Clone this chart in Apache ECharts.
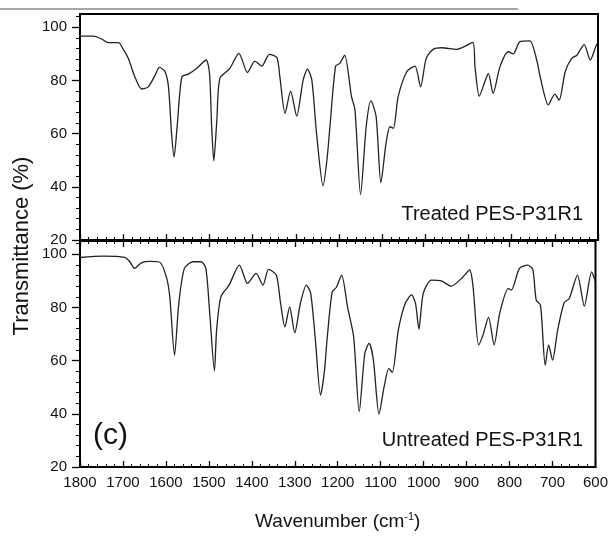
<!DOCTYPE html>
<html lang="en">
<head>
    <meta charset="UTF-8">
    <title>FTIR PES-P31R1</title>
    <script src="https://cdn.jsdelivr.net/npm/echarts@6/dist/echarts.min.js"></script>
    <style>
    html, body { padding: 0; margin: 0; width: 100%; height: 100%; background: #fff; }
    #main { width: 611px; height: 537px; }
    </style>
</head>
<body>
    <div id="main"></div>
    <script type="text/javascript">
        // wavenumber (cm-1) / transmittance (%)
        var treatedWn = [1800, 1769, 1750, 1734, 1711, 1700, 1688, 1673, 1657, 1642, 1626, 1616, 1603, 1595, 1588, 1582, 1575, 1564, 1549, 1530,
            1508, 1500, 1495, 1490, 1483, 1476, 1453, 1432, 1412, 1395, 1379, 1361, 1344, 1337, 1325, 1312, 1298, 1283, 1273, 1263,
            1252, 1237, 1228, 1221, 1208, 1198, 1187, 1171, 1163, 1150, 1137, 1126, 1114, 1103, 1091, 1082, 1074, 1063, 1043, 1024,
            1011, 998, 982, 962, 927, 890, 885, 875, 862, 854, 843, 827, 808, 796, 781, 758, 742, 734, 715, 700,
            690, 676, 661, 649, 632, 618, 603, 600];
        var treatedT = [96.7, 96.7, 95.6, 94.2, 94.2, 91.8, 88.3, 81.4, 76.8, 77.6, 82, 84.9, 83.3, 77.6, 60.2, 51.3, 62.6, 81.4, 82.4, 84.5,
            87.7, 82.7, 62.6, 49.8, 65.1, 80.8, 84.5, 90.2, 83, 87.3, 85.4, 89.8, 88.7, 81.4, 67.6, 76, 66.6, 80.2, 84.3, 80.2,
            60.1, 40.4, 50, 62.6, 85.4, 86.4, 89.5, 73.9, 68.9, 37.1, 62.6, 72.4, 66.4, 41.5, 56.4, 62.6, 62, 73.9, 83.3, 85.4,
            77.6, 88.3, 91.7, 92.3, 91.7, 94.3, 85.2, 74.1, 79.6, 82.7, 75.2, 85.2, 90.8, 90, 94.6, 94.9, 87.7, 81.4, 70.8, 74.9,
            72.6, 83.3, 88.3, 89.5, 93.5, 87.7, 93.6, 93.8];

        var untreatedWn = [1800, 1746, 1696, 1684, 1673, 1657, 1638, 1615, 1599, 1591, 1580, 1570, 1557, 1537, 1518, 1507, 1498, 1487, 1482, 1472,
            1453, 1429, 1410, 1390, 1374, 1361, 1343, 1333, 1323, 1312, 1300, 1287, 1273, 1263, 1252, 1240, 1231, 1225, 1213, 1203,
            1191, 1177, 1163, 1150, 1137, 1127, 1117, 1104, 1092, 1081, 1073, 1059, 1043, 1028, 1019, 1011, 1001, 982, 959, 936,
            912, 893, 885, 872, 862, 849, 836, 823, 803, 796, 777, 758, 746, 738, 728, 717, 709, 700, 688, 673,
            661, 642, 626, 609, 601];
        var untreatedT = [98.8, 99.3, 98.8, 97.2, 94.7, 96.8, 97.3, 97.1, 91.5, 84, 62.1, 81.5, 94.7, 97.2, 97.2, 94.7, 77.8, 56.2, 71.5, 84,
            88.4, 95.9, 89.1, 92.8, 88.4, 94.3, 92.2, 81.5, 72.7, 80.2, 70.5, 81.5, 88.4, 85.3, 67.7, 47, 56, 67.7, 85.9, 87.6,
            92.2, 80, 69, 40.8, 62.7, 66.5, 60.2, 39.9, 50.2, 57.1, 55.6, 71.5, 81.5, 84.7, 81.5, 71.9, 85.3, 90.3, 90, 88,
            90.9, 94.1, 87.8, 65.9, 69.6, 76.3, 65.9, 77.8, 87.2, 86.5, 94.7, 95.9, 94.3, 82.8, 80.9, 58.3, 65.9, 60.2, 71.5, 81.8,
            83.4, 92.2, 80.5, 93.4, 90];

        var yMajor = [20, 40, 60, 80, 100];
        var yMinor = [];
        for (var v = 24; v <= 104; v += 4) { if (v % 20 !== 0) yMinor.push(v); }

        function pairs(xs, ys) {
            var out = [];
            for (var i = 0; i < xs.length; i++) out.push([xs[i], ys[i]]);
            return out;
        }

        var font = 'Liberation Sans, Arial, sans-serif';
        var frame = { color: '#000', width: 2 };

        function xAx(grid, pos, labels) {
            return {
                type: 'value', gridIndex: grid, position: pos,
                min: 600, max: 1800, interval: 100, inverse: true,
                axisLine: { show: true, onZero: false, lineStyle: frame },
                axisTick: { show: true, inside: true, length: 6, lineStyle: { color: '#000', width: 1.3 } },
                minorTick: { show: true, splitNumber: 5, length: 3, lineStyle: { color: '#000', width: 1 } },
                axisLabel: { show: labels, margin: 8, fontFamily: font, fontSize: 15, color: '#111',
                             formatter: function (val) { return String(val); } },
                splitLine: { show: false }
            };
        }
        function yMain(grid) {
            return {
                type: 'value', gridIndex: grid, position: 'left',
                min: 20, max: 105, interval: 20,
                axisLine: { show: true, lineStyle: frame },
                axisTick: { show: true, length: 8, customValues: yMajor, lineStyle: { color: '#000', width: 1.3 } },
                axisLabel: { margin: 13, customValues: yMajor, fontFamily: font, fontSize: 15, color: '#111' },
                splitLine: { show: false }
            };
        }
        function yMinorAx(grid) {
            return {
                type: 'value', gridIndex: grid, position: 'left',
                min: 20, max: 105,
                axisLine: { show: false },
                axisTick: { show: true, length: 4, customValues: yMinor, lineStyle: { color: '#000', width: 1 } },
                axisLabel: { show: false },
                splitLine: { show: false }
            };
        }

        var chart = echarts.init(document.getElementById('main'), null, { renderer: 'canvas' });
        var option = {
            backgroundColor: '#fff',
            animation: false,
            grid: [
                { left: 80, top: 14, width: 518, height: 226, show: true, borderColor: '#000', borderWidth: 2, backgroundColor: 'transparent' },
                { left: 80, top: 241, width: 518, height: 226, show: true, borderColor: '#000', borderWidth: 2, backgroundColor: 'transparent' }
            ],
            xAxis: [
                xAx(0, 'bottom', false),
                Object.assign(xAx(1, 'bottom', true), {
                    name: '{a|Wavenumber (cm}{s|-1}{a|)}',
                    nameLocation: 'middle', nameGap: 44,
                    nameTextStyle: {
                        rich: {
                            a: { fontFamily: font, fontSize: 19, color: '#111' },
                            s: { fontFamily: font, fontSize: 11, color: '#111', padding: [0, 0, 10, 0] }
                        }
                    }
                }),
                xAx(1, 'top', false)
            ],
            yAxis: [yMain(0), yMinorAx(0), yMain(1), yMinorAx(1)],
            graphic: [
                { type: 'line', shape: { x1: 0, y1: 9, x2: 518, y2: 9 }, style: { stroke: '#8a8a8a', lineWidth: 1.5 } },
                { type: 'text', x: 22, y: 246, rotation: Math.PI / 2,
                  style: { text: 'Transmittance (%)', fontFamily: font, fontSize: 22, fill: '#111', textAlign: 'center', textVerticalAlign: 'middle' } },
                { type: 'text', x: 583, y: 214,
                  style: { text: 'Treated PES-P31R1', fontFamily: font, fontSize: 20, fill: '#111', textAlign: 'right', textVerticalAlign: 'middle' } },
                { type: 'text', x: 583, y: 440,
                  style: { text: 'Untreated PES-P31R1', fontFamily: font, fontSize: 20, fill: '#111', textAlign: 'right', textVerticalAlign: 'middle' } },
                { type: 'text', x: 93, y: 436,
                  style: { text: '(c)', fontFamily: font, fontSize: 30, fill: '#111', textAlign: 'left', textVerticalAlign: 'middle' } }
            ],
            series: [
                {
                    name: 'Treated PES-P31R1', type: 'line', xAxisIndex: 0, yAxisIndex: 0,
                    data: pairs(treatedWn, treatedT), smooth: 0.25, symbol: 'none',
                    lineStyle: { color: '#222', width: 1.3 }
                },
                {
                    name: 'Untreated PES-P31R1', type: 'line', xAxisIndex: 1, yAxisIndex: 2,
                    data: pairs(untreatedWn, untreatedT), smooth: 0.25, symbol: 'none',
                    lineStyle: { color: '#222', width: 1.3 }
                }
            ]
        };
        chart.setOption(option);
    </script>
</body>
</html>
